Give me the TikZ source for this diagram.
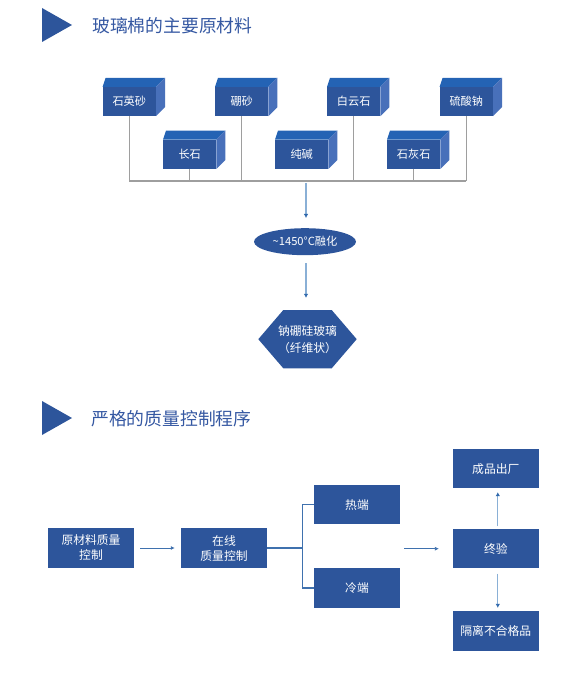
\documentclass[tikz,border=0pt]{standalone}
\usepackage{fontspec}
\setmainfont{Noto Sans CJK SC}
\usetikzlibrary{arrows.meta,shapes.geometric}
\definecolor{GBBlue}{HTML}{2D559B}
\definecolor{GBTop}{HTML}{2463B4}
\definecolor{GBSide}{HTML}{4870BA}
\definecolor{GBTitle}{HTML}{3558A2}
\definecolor{GBGray}{HTML}{9E9E9E}
\definecolor{GBShaft}{HTML}{8AB0D6}
\definecolor{GBTip}{HTML}{2E68AC}
\definecolor{GBFlow}{HTML}{3F71AE}

\begin{document}
\begin{tikzpicture}[x=1pt,y=-1pt,
  cubebox/.style={fill=GBBlue,text=white,minimum width=53pt,minimum height=29pt,inner sep=0pt,font=\fontsize{11.2}{13}\selectfont},
  flowbox/.style={fill=GBBlue,text=white,minimum width=86pt,minimum height=39.5pt,inner sep=0pt,align=center,font=\fontsize{11.8}{15}\selectfont},
  title/.style={anchor=west,text=GBTitle,inner sep=0pt,font=\fontsize{17.8}{20}\selectfont},
  downarrow/.style={draw=GBShaft,line width=1.6pt,-{Latex[length=4pt,width=4.5pt,color=GBTip]}},
  flowarrow/.style={draw=GBFlow,line width=1pt,-{Latex[length=4pt,width=4pt]}}]
\path[use as bounding box] (0,0) rectangle (562,692);

% section 1
\fill[GBBlue] (42,8) -- (72,25) -- (42,42) -- cycle;
\node[title] (head1) at (92,26) {玻璃棉的主要原材料};

\foreach \n/\x/\y/\t in {sys/129.3/101.5/石英砂, pen/241.7/101.5/硼砂, byun/353.7/101.5/白云石, nas/466.3/101.5/硫酸钠,
  chs/189.7/154.3/长石, chj/301.7/154.3/纯碱, shh/413.7/154.3/石灰石}{
  \node[cubebox] (\n) at (\x,\y) {\t};
  \fill[GBTop] (\n.north west) -- ++(3,-9) -- ([shift={(9,-9)}]\n.north east) -- (\n.north east) -- cycle;
  \fill[GBSide] (\n.north east) -- ++(9,-9) -- ([shift={(9,-9)}]\n.south east) -- (\n.south east) -- cycle;
}

\coordinate (bus) at (0,181);
\foreach \n in {sys,pen,byun,nas,chs,shh}
  \draw[GBGray,line width=1.2pt] (\n.south) -- (\n.south |- bus);
\draw[GBGray,line width=1.2pt] (sys.south |- bus) -- (nas.south |- bus);

\node[ellipse,fill=GBBlue,text=white,minimum width=102pt,minimum height=27pt,inner sep=0pt,font=\fontsize{11.2}{13}\selectfont] (melt) at (305,241.7) {\textasciitilde1450°C融化};
\coordinate (busout) at (306,183);
\draw[downarrow,shorten >=10pt] (busout) -- (busout |- melt.north);

\fill[GBBlue] (258.3,339.2) -- (283.3,310) -- (331.7,310) -- (356.7,339.2) -- (331.7,368.3) -- (283.3,368.3) -- cycle;
\node[text=white,minimum height=58.3pt,inner sep=0pt,align=center,font=\fontsize{11.8}{17}\selectfont] (glass) at (307.5,339.2) {钠硼硅玻璃\\（纤维状）};
\draw[downarrow,shorten <=8pt,shorten >=12pt] (busout |- melt.south) -- (busout |- glass.north);

% section 2
\fill[GBBlue] (42,401) -- (72,418) -- (42,435) -- cycle;
\node[title] (head2) at (91,419) {严格的质量控制程序};

\node[flowbox] (raw) at (91,548) {原材料质量\\控制};
\node[flowbox] (online) at (224,548) {在线\\质量控制};
\node[flowbox] (hot) at (357,504.6) {热端};
\node[flowbox] (cold) at (357,588) {冷端};
\node[flowbox] (final) at (495.8,548.7) {终验};
\node[flowbox] (ship) at (495.8,468.7) {成品出厂};
\node[flowbox] (reject) at (495.8,630.8) {隔离不合格品};

\draw[flowarrow,shorten <=6pt,shorten >=6pt] (raw) -- (online);
\coordinate (fork) at (302.7,548);
\draw[GBFlow,line width=1.2pt] (online.east) -- (fork);
\draw[GBFlow,line width=1.2pt] (hot.west) -| (fork) |- (cold.west);
\coordinate (merge) at (404,548.7);
\draw[flowarrow,shorten >=13.7pt] (merge) -- (final.west);
\draw[downarrow,line width=1.3pt,shorten <=2.5pt,shorten >=3.5pt] ([xshift=2pt]final.north) -- ([xshift=2pt]ship.south);
\draw[downarrow,line width=1.3pt,shorten <=5pt,shorten >=3pt] ([xshift=2pt]final.south) -- ([xshift=2pt]reject.north);
\end{tikzpicture}
\end{document}
